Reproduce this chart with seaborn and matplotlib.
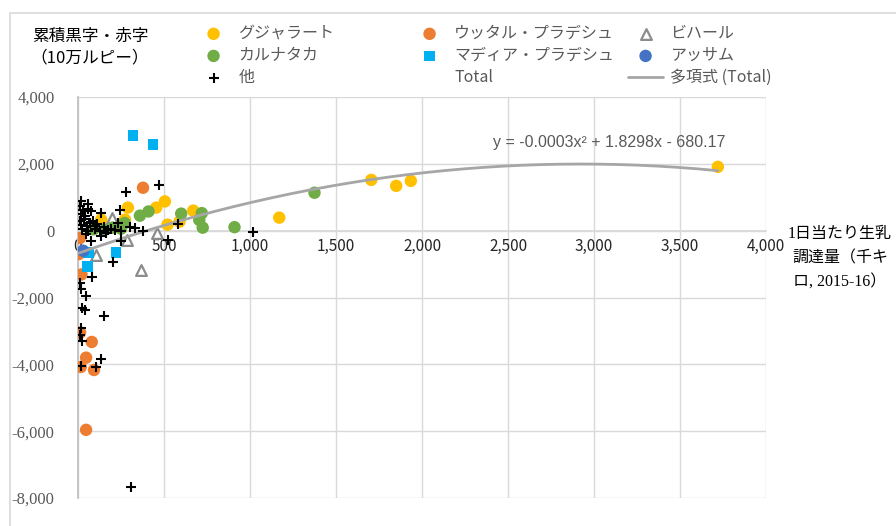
import numpy as np
import pandas as pd
import matplotlib.pyplot as plt
from matplotlib.lines import Line2D
from matplotlib.patches import Rectangle
import seaborn as sns

# --- data (x: 1日当たり生乳調達量, y: 累積黒字・赤字) ---
gujarat_x = [135, 273, 290, 455, 505, 520, 590, 670, 1170, 1705, 1850, 1935, 3720]
gujarat_y = [330, 330, 690, 690, 875, 180, 270, 600, 390, 1520, 1340, 1490, 1910]

up_x = [378, 12, 5, 20, 12, 80, 47, 16, 93, 47]
up_y = [1285, -220, -700, -1310, -3050, -3330, -3800, -4080, -4170, -5960]

bihar_x = [366, 461, 196, 283, 106]
bihar_y = [-1190, -60, 380, -270, -720]

karnataka_x = [360, 410, 600, 720, 705, 725, 910, 1375, 271, 90, 155, 200, 250]
karnataka_y = [450, 575, 510, 525, 320, 90, 105, 1135, 229, 40, 30, 90, 60]

mp_x = [320, 436, 221, 54, 62]
mp_y = [2840, 2570, -650, -1070, -650]

assam_x = [30]
assam_y = [-600]

other_x = [473, 281, 244, 19, 58, 131, 10, 29, 77, 39, 10, 68, 97, 126, 58, 174,
           213, 252, 330, 233, 135, 77, 252, 378, 583, 1018, 524, 204, 80, 10,
           19, 48, 21, 42, 150, 16, 12, 21, 133, 19, 104, 307,
           15, 35, 50, 85, 110, 150, 190, 25, 45, 100, 160, 300, 60, 20]
other_y = [1373, 1160, 606, 896, 796, 528, 726, 627, 577, 428, 279, 229, 129, -20, -20, 30,
           30, -20, 80, 229, -169, -318, -318, -20, 209, -25, -290, -946, -1400, -1560,
           -1760, -1960, -2310, -2360, -2550, -2905, -3134, -3304, -3830, -4060, -4090, -7660,
           500, 350, 150, 300, 200, 120, 60, 60, -100, 40, -60, 100, 650, 180]

# polynomial trend shown in the chart (y = -0.0003x^2 + 1.8298x - 680.17)
trend_coef = [-0.000313, 1.8298, -680.17]

x_ticks = [0, 500, 1000, 1500, 2000, 2500, 3000, 3500, 4000]
y_ticks = [-8000, -6000, -4000, -2000, 0, 2000, 4000]

GRAY_TXT = "#595959"
GRID = "#D9D9D9"

sns.set_theme(style="white")
plt.rcParams['font.family'] = ['Noto Sans CJK JP', 'DejaVu Sans']

fig = plt.figure(figsize=(8.96, 5.26), dpi=100)
ax = fig.add_axes([78 / 896, 1 - 498 / 526, 688 / 896, 401 / 526])

# outer chart frame
fig.patches.append(Rectangle((10 / 896, -0.2), 2, 1.2 - 13 / 526, transform=fig.transFigure,
                             fill=False, edgecolor=GRID, linewidth=1.2, zorder=0))

# series
groups = [
    ("グジャラート", gujarat_x, gujarat_y, dict(marker="o", color="#FFC000", s=80, edgecolor="none")),
    ("ウッタル・プラデシュ", up_x, up_y, dict(marker="o", color="#ED7D31", s=80, edgecolor="none")),
    ("ビハール", bihar_x, bihar_y, dict(marker="^", facecolor="white", edgecolor="#8C8C8C", s=60, linewidth=1.6)),
    ("カルナタカ", karnataka_x, karnataka_y, dict(marker="o", color="#70AD47", s=80, edgecolor="none")),
    ("マディア・プラデシュ", mp_x, mp_y, dict(marker="s", color="#00B0F0", s=60, edgecolor="none")),
    ("アッサム", assam_x, assam_y, dict(marker="o", color="#4472C4", s=80, edgecolor="none")),
]
for name, xs, ys, kw in groups:
    sns.scatterplot(x=xs, y=ys, ax=ax, label=name, zorder=3, **kw)

# trend line over all points
all_x = gujarat_x + up_x + bihar_x + karnataka_x + mp_x + assam_x + other_x
xx = np.linspace(min(all_x), max(all_x), 200)
sns.lineplot(x=xx, y=np.polyval(trend_coef, xx), ax=ax, color="#A6A6A6", linewidth=2,
             label="多項式 (Total)", zorder=4)

sns.scatterplot(x=other_x, y=other_y, ax=ax, marker="+", color="black", s=45,
                linewidth=1.5, label="他", zorder=5)

ax.text(3090, 2640, "y = -0.0003x² + 1.8298x - 680.17", ha="center", va="center",
        fontsize=11.5, color=GRAY_TXT, family=["Liberation Sans Narrow", "Liberation Sans", "DejaVu Sans"])

# axes styling
ax.set_xlim(0, 4000)
ax.set_ylim(-8000, 4000)
ax.set_xticks(x_ticks)
ax.set_yticks(y_ticks)
ax.set_xticklabels([f"{v:,}" for v in x_ticks])
ax.set_yticklabels([f"{v:,}" for v in y_ticks])
for lab in ax.get_xticklabels() + ax.get_yticklabels():
    lab.set_family(["Liberation Serif", "DejaVu Serif"])
    lab.set_fontsize(12)
    lab.set_color(GRAY_TXT)
ax.tick_params(axis="x", length=0, pad=5)
ax.tick_params(axis="y", length=0, pad=17)
ax.set_axisbelow(True)
ax.grid(True, color=GRID, linewidth=1)
ax.spines["bottom"].set_position(("data", 0))
ax.spines["bottom"].set_color(GRID)
ax.spines["top"].set_visible(False)
ax.spines["right"].set_visible(False)
ax.spines["left"].set_color("#BFBFBF")
ax.set_xlabel("")
ax.set_ylabel("")

# axis titles
fig.text(90 / 896, 1 - 47 / 526, "累積黒字・赤字\n（10万ルピー）", ha="center", va="center",
         fontsize=12, color="black", linespacing=1.3)
fig.text(840 / 896, 1 - 258 / 526, "1日当たり生乳\n調達量（千キ\nロ, 2015-16）", ha="center", va="center",
         fontsize=11.5, color="black", linespacing=1.7,
         family=["Liberation Serif", "Noto Sans CJK JP"])

# legend: three columns like the Excel legend
h, l = ax.get_legend_handles_labels()
hd = dict(zip(l, h))
if ax.legend_:
    ax.legend_.remove()
hd["Total"] = Line2D([], [], linestyle="none", marker=None)
cols = [
    (196, ["グジャラート", "カルナタカ", "他"]),
    (412, ["ウッタル・プラデシュ", "マディア・プラデシュ", "Total"]),
    (628, ["ビハール", "アッサム", "多項式 (Total)"]),
]
for x0, names in cols:
    fig.legend([hd[n] for n in names], names, loc="upper left",
               bbox_to_anchor=(x0 / 896, 1 - 25 / 526), frameon=False,
               fontsize=11.5, labelcolor=GRAY_TXT, handlelength=2.2,
               handletextpad=0.45, labelspacing=0.32, borderpad=0,
               borderaxespad=0, scatterpoints=1)

fig.savefig("out.png", dpi=100)
